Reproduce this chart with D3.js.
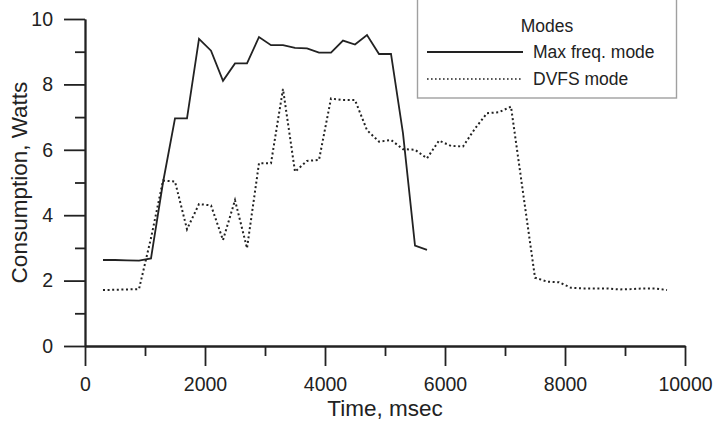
<!DOCTYPE html>
<html>
<head>
<meta charset="utf-8">
<script src="https://cdn.jsdelivr.net/npm/d3@7"></script>
<style>
  body { margin: 0; background: #fff; }
  text { font-family: "Liberation Sans", Arial, sans-serif; fill: #222; }
</style>
</head>
<body>
<div id="chart"></div>
<script>
// time points (msec) and consumption (Watts)
var maxTimes = [300, 500, 700, 900, 1100, 1300, 1500, 1700, 1900, 2100, 2300, 2500, 2700, 2900,
  3100, 3300, 3500, 3700, 3900, 4100, 4300, 4500, 4700, 4900, 5100, 5300, 5500, 5700];
var maxValues = [2.63, 2.63, 2.62, 2.61, 2.68, 5.0, 6.96, 6.96, 9.39, 9.03, 8.11, 8.64, 8.64, 9.45,
  9.2, 9.2, 9.12, 9.1, 8.97, 8.97, 9.34, 9.22, 9.51, 8.93, 8.93, 6.5, 3.07, 2.94];

var dvfsTimes = [300, 500, 700, 900, 1100, 1300, 1500, 1700, 1900, 2100, 2300, 2500, 2700, 2900,
  3100, 3300, 3500, 3700, 3900, 4100, 4300, 4500, 4700, 4900, 5100, 5300, 5500, 5700, 5900,
  6100, 6300, 6500, 6700, 6900, 7100, 7300, 7500, 7700, 7900, 8100, 8300, 8500, 8700, 8900,
  9100, 9300, 9500, 9700];
var dvfsValues = [1.71, 1.72, 1.73, 1.74, 3.3, 5.06, 5.03, 3.57, 4.34, 4.3, 3.24, 4.46, 2.99, 5.59,
  5.59, 7.86, 5.33, 5.66, 5.69, 7.57, 7.52, 7.52, 6.6, 6.25, 6.3, 6.02, 6.0, 5.74, 6.28,
  6.12, 6.1, 6.65, 7.12, 7.15, 7.32, 4.7, 2.09, 1.97, 1.95, 1.78, 1.76, 1.76, 1.76, 1.73,
  1.74, 1.76, 1.76, 1.71];

var xMajor = [0, 2000, 4000, 6000, 8000, 10000];
var xMinor = [1000, 3000, 5000, 7000, 9000];
var yMajor = [0, 2, 4, 6, 8, 10];
var yMinor = [1, 3, 5, 7, 9];

var legendTitle = "Modes";
var seriesNames = ["Max freq. mode", "DVFS mode"];

var W = 714, H = 425;
var margin = {top: 19, right: 29, bottom: 79, left: 85},
    width = W - margin.left - margin.right,
    height = H - margin.top - margin.bottom;

var svg = d3.select("#chart")
  .append("svg")
    .attr("width", W)
    .attr("height", H)
  .append("g")
    .attr("transform", "translate(" + margin.left + "," + margin.top + ")");

var x = d3.scaleLinear().domain([0, 10000]).range([0, width]);
var y = d3.scaleLinear().domain([0, 10]).range([height, 0]);

// minor ticks first, then major ticks with labels
svg.append("g")
  .attr("class", "axis")
  .attr("transform", "translate(0," + height + ")")
  .call(d3.axisBottom(x).tickValues(xMinor).tickSize(10).tickSizeOuter(0).tickFormat(""));
svg.append("g")
  .attr("class", "axis")
  .attr("transform", "translate(0," + height + ")")
  .call(d3.axisBottom(x).tickValues(xMajor).tickSize(20).tickSizeOuter(0).tickPadding(11)
    .tickFormat(d3.format("d")));

svg.append("g")
  .attr("class", "axis")
  .call(d3.axisLeft(y).tickValues(yMinor).tickSize(10).tickSizeOuter(0).tickFormat(""));
svg.append("g")
  .attr("class", "axis")
  .call(d3.axisLeft(y).tickValues(yMajor).tickSize(21).tickSizeOuter(0).tickPadding(11)
    .tickFormat(d3.format("d")));

svg.selectAll(".axis path, .axis line")
  .attr("stroke", "#222")
  .attr("stroke-width", 1.8);
svg.selectAll(".axis text")
  .style("font-size", "19.5px")
  .attr("fill", "#222");

// axis titles
svg.append("text")
  .attr("x", width / 2)
  .attr("y", height + 70)
  .attr("text-anchor", "middle")
  .style("font-size", "22.5px")
  .text("Time, msec");

svg.append("text")
  .attr("transform", "translate(" + (27 - margin.left) + "," + (height / 2) + ") rotate(-90)")
  .attr("text-anchor", "middle")
  .style("font-size", "22.5px")
  .text("Consumption, Watts");

// lines
var line = d3.line()
  .x(function (d) { return x(d[0]); })
  .y(function (d) { return y(d[1]); });

var maxData = maxTimes.map(function (t, i) { return [t, maxValues[i]]; });
var dvfsData = dvfsTimes.map(function (t, i) { return [t, dvfsValues[i]]; });

svg.append("path")
  .datum(dvfsData)
  .attr("d", line)
  .attr("fill", "none")
  .attr("stroke", "#222")
  .attr("stroke-width", 2)
  .attr("stroke-dasharray", "2,2.6");

svg.append("path")
  .datum(maxData)
  .attr("d", line)
  .attr("fill", "none")
  .attr("stroke", "#222")
  .attr("stroke-width", 1.8);

// legend box (top edge runs off the picture)
var legend = d3.select("svg").append("g");
legend.append("rect")
  .attr("x", 417.5)
  .attr("y", -5)
  .attr("width", 259)
  .attr("height", 103)
  .attr("fill", "#fff")
  .attr("stroke", "#a0a0a0")
  .attr("stroke-width", 1.4);

legend.append("text")
  .attr("x", 547)
  .attr("y", 32)
  .attr("text-anchor", "middle")
  .style("font-size", "17.5px")
  .text(legendTitle);

var rows = legend.selectAll(".row")
  .data(seriesNames)
  .enter()
  .append("g")
  .attr("transform", function (d, i) { return "translate(0," + (52 + i * 27) + ")"; });

rows.append("line")
  .attr("x1", 427)
  .attr("x2", 523)
  .attr("stroke", "#222")
  .attr("stroke-width", function (d, i) { return i == 0 ? 1.8 : 1.6; })
  .attr("stroke-dasharray", function (d, i) { return i == 0 ? null : "1.6,2.4"; });

rows.append("text")
  .attr("x", 533)
  .attr("y", 6)
  .style("font-size", "17.5px")
  .text(function (d) { return d; });
</script>
</body>
</html>
